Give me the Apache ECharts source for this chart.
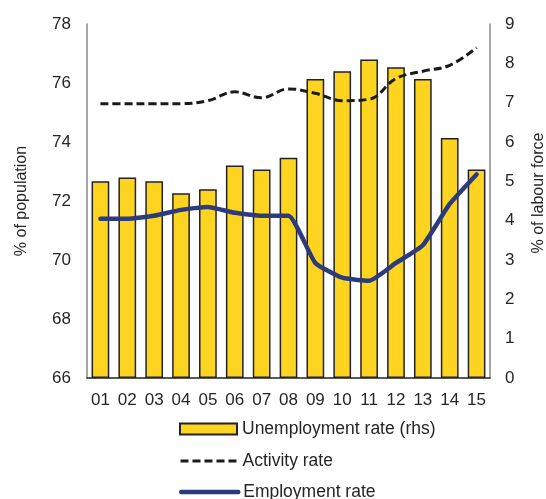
<!DOCTYPE html>
<html><head><meta charset="utf-8">
<script src="https://cdn.jsdelivr.net/npm/echarts@6/dist/echarts.min.js"></script>
<style>html,body{margin:0;padding:0;background:#fff}#c{width:546px;height:499px}</style>
</head><body><div id="c"></div>
<script>
const categories = ['01','02','03','04','05','06','07','08','09','10','11','12','13','14','15'];
const unemploymentRate = [5.0,5.1,5.0,4.7,4.8,5.4,5.3,5.6,7.6,7.8,8.1,7.9,7.6,6.1,5.3];
const activityRate = [75.3,75.3,75.3,75.3,75.4,75.7,75.5,75.8,75.65,75.4,75.45,76.15,76.4,76.6,77.2];
const employmentRate = [71.4,71.4,71.5,71.7,71.8,71.6,71.5,71.5,69.9,69.4,69.3,69.9,70.5,71.9,72.9];
const leftTicks = [66,68,70,72,74,76,78];
const rightTicks = [0,1,2,3,4,5,6,7,8,9];

const chart = echarts.init(document.getElementById('c'));
const txt = {color:'#262626', fontSize:17, fontFamily:'Liberation Sans, Arial, sans-serif'};
const nameTxt = {...txt, fontSize:16};
const legendBase = {orient:'vertical', left:174, itemWidth:57, itemHeight:11, itemGap:0,
  textStyle:{...txt, fontSize:17.5}};
chart.setOption({
  animation:false,
  grid:{left:87, right:56, top:24, bottom:121, outerBoundsMode:'none', containLabel:false},
  legend:[
    {...legendBase, top:415, data:[{name:'Unemployment rate (rhs)', icon:'rect'}]},
    {...legendBase, top:447, data:[{name:'Activity rate', itemStyle:{opacity:0},
      lineStyle:{width:3, type:[8,4]}}]},
    {...legendBase, top:478, data:[{name:'Employment rate', itemStyle:{opacity:0},
      lineStyle:{width:4.5, cap:'round'}}]}
  ],
  xAxis:{type:'category', data:categories,
    axisLine:{lineStyle:{color:'#222', width:1.5}}, axisTick:{show:false},
    axisLabel:{...txt, margin:14}},
  yAxis:[
    {type:'value', min:leftTicks[0], max:leftTicks[leftTicks.length-1], interval:2,
     name:'% of population', nameLocation:'middle', nameGap:57, nameRotate:90,
     nameTextStyle:nameTxt,
     axisLine:{show:true, lineStyle:{color:'#888', width:1.5}}, axisTick:{show:false},
     splitLine:{show:false}, axisLabel:{...txt, margin:16}},
    {type:'value', min:rightTicks[0], max:rightTicks[rightTicks.length-1], interval:1,
     name:'% of labour force', nameLocation:'middle', nameGap:41, nameRotate:90,
     nameTextStyle:{...nameTxt, padding:[0,0,0,16]},
     axisLine:{show:true, lineStyle:{color:'#888', width:1.5}}, axisTick:{show:false},
     splitLine:{show:false}, axisLabel:{...txt, margin:15}}
  ],
  series:[
    {name:'Unemployment rate (rhs)', type:'bar', yAxisIndex:1, data:unemploymentRate,
     barWidth:'66%', itemStyle:{color:'#FDD520', borderColor:'#222', borderWidth:1.5}},
    {name:'Activity rate', type:'line', yAxisIndex:0, data:activityRate, smooth:0.4,
     symbol:'none', z:5,
     lineStyle:{color:'#1a1a1a', width:3, type:[8,4]}, itemStyle:{color:'#1a1a1a'}},
    {name:'Employment rate', type:'line', yAxisIndex:0, data:employmentRate, smooth:0.15,
     symbol:'none', z:6,
     lineStyle:{color:'#2D3A7C', width:4.5, cap:'round'}, itemStyle:{color:'#2D3A7C'}}
  ]
});
</script></body></html>
